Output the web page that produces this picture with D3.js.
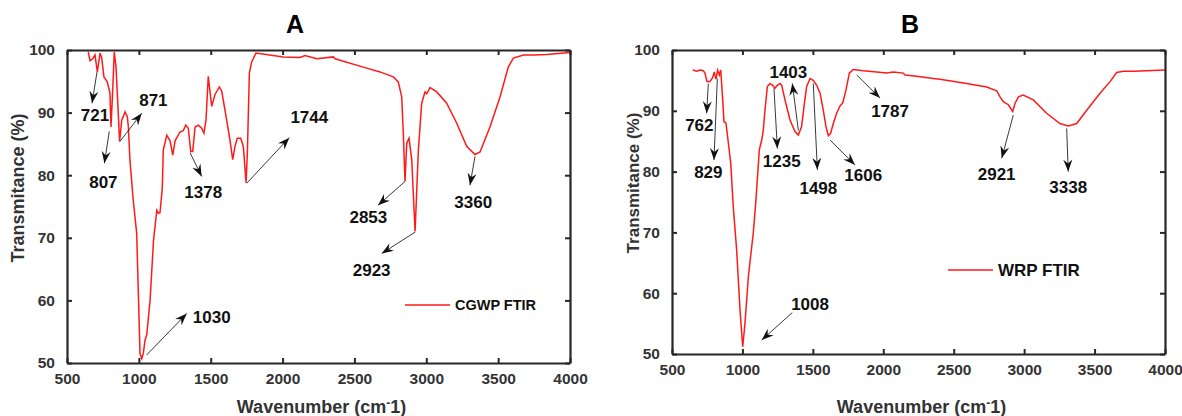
<!DOCTYPE html>
<html>
<head>
<meta charset="utf-8">
<script src="https://cdn.jsdelivr.net/npm/d3@7"></script>
<style>
body { margin: 0; background: #fff; }
text { font-family: Arial, "Liberation Sans", sans-serif; font-weight: bold; }
</style>
</head>
<body>
<div id="chart-area"></div>
<script>
// ---- data ----
var waveA = [648,660,679,695,711,730,741,757,780,799,806,815,829,841,866,881,904,920,927,938,961,985,1008,1020,1031,1043,1055,1078,1102,1125,1136,1147,1163,1170,1194,1217,1236,1252,1286,1309,1326,1344,1361,1375,1391,1414,1437,1453,1467,1483,1507,1530,1560,1577,1611,1634,1653,1669,1685,1709,1727,1746,1755,1769,1785,1815,2005,2121,2156,2238,2353,2365,2585,2678,2771,2805,2829,2840,2852,2864,2880,2899,2922,2945,2968,2991,3003,3026,3073,3142,3212,3281,3339,3374,3443,3513,3571,3606,3676,3745,3838,4000];
var transA = [99.7,98.3,98.6,99.2,96.5,99.5,98.8,95.7,94.9,93.1,87.7,92.0,99.7,97.3,85.4,88.8,90.1,89.3,87.7,82.4,76.0,70.7,51.5,50.7,51.5,53.7,54.5,60.0,69.6,74.4,73.9,74.0,77.9,84.0,86.4,85.5,83.2,85.5,86.9,87.1,88.0,87.5,83.8,83.8,87.7,88.0,87.5,86.7,88.8,95.8,91.0,92.9,94.1,93.4,88.8,85.6,82.5,84.6,85.9,85.9,84.6,78.8,83.6,96.3,98.1,99.5,98.9,98.8,99.1,98.6,98.9,98.6,97.1,96.5,95.7,94.9,92.5,86.7,79.0,85.1,85.9,82.4,71.0,84.0,91.5,93.3,93.0,94.0,93.3,91.5,88.3,84.6,83.3,83.7,87.7,92.5,97.3,98.7,99.2,99.2,99.3,99.6];

var waveB = [647,675,699,722,734,748,770,789,800,812,824,836,846,860,869,883,900,917,935,959,983,1002,1018,1042,1077,1096,1120,1137,1148,1160,1177,1196,1215,1231,1248,1267,1279,1302,1338,1373,1397,1420,1437,1456,1480,1503,1527,1551,1574,1593,1610,1626,1645,1669,1693,1712,1735,1759,1787,1858,1953,2024,2071,2142,2154,2237,2355,2402,2592,2734,2805,2829,2852,2888,2919,2935,2959,2994,3065,3160,3254,3313,3373,3444,3539,3610,3657,3704,3775,4000];
var transB = [96.7,96.5,96.7,96.6,96.2,94.8,94.8,95.5,96.4,95.2,96.7,95.9,96.7,91.8,88.2,88.0,84.7,81.4,74.2,67.1,57.2,51.2,55.0,62.7,69.9,75.3,83.6,85.2,86.8,90.1,94.0,94.5,94.2,93.7,94.2,94.5,94.2,91.8,88.5,86.6,86.0,87.4,90.7,94.0,95.3,95.0,94.2,92.9,90.1,87.4,85.9,86.3,87.9,89.6,90.8,91.3,93.4,96.2,96.8,96.6,96.4,96.2,96.4,96.2,95.9,95.7,95.3,95.2,94.5,93.9,93.3,92.3,91.5,91.0,89.9,91.2,92.3,92.6,91.8,89.6,87.9,87.5,87.9,90.1,92.9,94.8,96.3,96.5,96.5,96.7];

var xTicks = [500,1000,1500,2000,2500,3000,3500,4000];
var yTicks = [50,60,70,80,90,100];

// peak labels: text position and arrow (tail -> head), all in data units
var peaksA = [
  {label:"721",  tx:695,  ty:89.6, x1:709,  y1:96.5, x2:674,  y2:91.5},
  {label:"807",  tx:753,  ty:79.0, x1:794,  y1:87.0, x2:760,  y2:81.9},
  {label:"871",  tx:1101, ty:92.1, x1:869,  y1:85.4, x2:1020, y2:89.9},
  {label:"1378", tx:1448, ty:77.4, x1:1356, y1:83.6, x2:1437, y2:79.8},
  {label:"1744", tx:2186, ty:89.3, x1:1750, y1:78.7, x2:2047, y2:86.0},
  {label:"2853", tx:2597, ty:73.4, x1:2852, y1:79.0, x2:2664, y2:75.2},
  {label:"2923", tx:2620, ty:64.9, x1:2922, y1:70.9, x2:2690, y2:67.5},
  {label:"3360", tx:3327, ty:75.8, x1:3339, y1:83.0, x2:3304, y2:78.4},
  {label:"1030", tx:1507, ty:57.4, x1:1055, y1:51.3, x2:1333, y2:57.9}
];
var peaksB = [
  {label:"762",  tx:694,  ty:87.7, x1:758,  y1:94.5, x2:746,  y2:89.6},
  {label:"829",  tx:758,  ty:80.0, x1:822,  y1:95.3, x2:798,  y2:81.9},
  {label:"1235", tx:1279, ty:81.7, x1:1224, y1:93.7, x2:1248, y2:83.8},
  {label:"1403", tx:1326, ty:96.4, x1:1397, y1:86.8, x2:1354, y2:94.5},
  {label:"1498", tx:1539, ty:77.3, x1:1503, y1:94.5, x2:1532, y2:80.3},
  {label:"1606", tx:1858, ty:79.4, x1:1622, y1:85.2, x2:1799, y2:81.1},
  {label:"1787", tx:2048, ty:90.0, x1:1811, y1:95.9, x2:1977, y2:92.1},
  {label:"2921", tx:2805, ty:79.7, x1:2923, y1:89.3, x2:2841, y2:82.2},
  {label:"3338", tx:3313, ty:77.5, x1:3302, y1:87.1, x2:3313, y2:80.0},
  {label:"1008", tx:1480, ty:58.3, x1:1354, y1:56.8, x2:1137, y2:52.3}
];

var svg = d3.select("#chart-area").append("svg")
    .attr("width", 1182)
    .attr("height", 416);

svg.append("defs").append("marker")
    .attr("id", "head")
    .attr("viewBox", "-12 -5 13 10")
    .attr("refX", 0).attr("refY", 0)
    .attr("markerWidth", 13).attr("markerHeight", 10)
    .attr("markerUnits", "userSpaceOnUse")
    .attr("orient", "auto")
    .append("path")
    .attr("d", "M0,0 L-12,-4.5 L-8,0 L-12,4.5 Z")
    .attr("fill", "#111");

function drawPanel(p) {
    var x = d3.scaleLinear().domain([500, 4000]).range([p.left, p.right]);
    var y = d3.scaleLinear().domain([50, 100]).range([p.bottom, p.top]);
    var g = svg.append("g");
    var axisColor = "#262626";

    // spectrum
    var pts = p.wave.map((w, i) => [w, p.trans[i]]);
    g.append("path")
        .datum(pts)
        .attr("fill", "none")
        .attr("stroke", "#ff1a1a")
        .attr("stroke-width", 1.5)
        .attr("d", d3.line().x(d => x(d[0])).y(d => y(d[1])));

    // box axes with inward ticks
    g.append("g").attr("transform", "translate(0," + p.bottom + ")")
        .call(d3.axisBottom(x).tickValues(xTicks).tickFormat(d3.format("d")).tickSizeInner(-5).tickSizeOuter(0).tickPadding(10))
        .call(s => s.selectAll("text").attr("font-size", 15.5).attr("fill", "#333"));
    g.append("g").attr("transform", "translate(0," + p.top + ")")
        .call(d3.axisTop(x).tickValues(xTicks).tickSizeInner(-5).tickSizeOuter(0).tickFormat(""));
    g.append("g").attr("transform", "translate(" + p.left + ",0)")
        .call(d3.axisLeft(y).tickValues(yTicks).tickSizeInner(-5).tickSizeOuter(0).tickPadding(12))
        .call(s => s.selectAll("text").attr("font-size", 15.5).attr("fill", "#333"));
    g.append("g").attr("transform", "translate(" + p.right + ",0)")
        .call(d3.axisRight(y).tickValues(yTicks).tickSizeInner(-5).tickSizeOuter(0).tickFormat(""));
    g.selectAll(".domain").attr("stroke", axisColor).attr("stroke-width", 2.2);
    g.selectAll(".tick line").attr("stroke", axisColor).attr("stroke-width", 2);

    // peak annotations
    p.peaks.forEach(d => {
        g.append("line")
            .attr("x1", x(d.x1)).attr("y1", y(d.y1))
            .attr("x2", x(d.x2)).attr("y2", y(d.y2))
            .attr("stroke", "#222").attr("stroke-width", 0.9)
            .attr("marker-end", "url(#head)");
        g.append("text")
            .attr("x", x(d.tx)).attr("y", y(d.ty))
            .attr("dy", "0.36em")
            .attr("text-anchor", "middle")
            .attr("font-size", 17)
            .attr("fill", "#111")
            .text(d.label);
    });

    // legend
    g.append("line")
        .attr("x1", p.legX).attr("x2", p.legX + 45)
        .attr("y1", p.legY).attr("y2", p.legY)
        .attr("stroke", "#ff1a1a").attr("stroke-width", 1.5);
    g.append("text")
        .attr("x", p.legX + 50).attr("y", p.legY)
        .attr("dy", "0.36em")
        .attr("font-size", p.legSize)
        .attr("fill", "#111")
        .text(p.name);

    // titles
    g.append("text")
        .attr("x", p.titleX).attr("y", 33)
        .attr("text-anchor", "middle")
        .attr("font-size", 25)
        .attr("fill", "#000")
        .text(p.title);

    var xt = g.append("text")
        .attr("x", (p.left + p.right) / 2 + 3).attr("y", 413)
        .attr("text-anchor", "middle")
        .attr("font-size", 18)
        .attr("fill", "#333");
    xt.append("tspan").text("Wavenumber (cm");
    xt.append("tspan").attr("dy", -6).attr("font-size", 12).text("-");
    xt.append("tspan").attr("dy", 6).text("1)");

    g.append("text")
        .attr("transform", "translate(" + p.yTitleX + "," + p.yTitleY + ") rotate(-90)")
        .attr("text-anchor", "middle")
        .attr("dy", "0.36em")
        .attr("font-size", p.yTitleSize)
        .attr("fill", "#333")
        .text("Transmitance (%)");
}

drawPanel({
    left: 67, right: 570, top: 50, bottom: 363,
    wave: waveA, trans: transA, peaks: peaksA,
    title: "A", titleX: 295, name: "CGWP FTIR",
    legX: 405, legY: 305, legSize: 14.5,
    yTitleX: 18, yTitleY: 188, yTitleSize: 18
});

drawPanel({
    left: 672, right: 1165, top: 50, bottom: 354,
    wave: waveB, trans: transB, peaks: peaksB,
    title: "B", titleX: 910, name: "WRP FTIR",
    legX: 948, legY: 270, legSize: 17,
    yTitleX: 633, yTitleY: 183, yTitleSize: 17
});
</script>
</body>
</html>
